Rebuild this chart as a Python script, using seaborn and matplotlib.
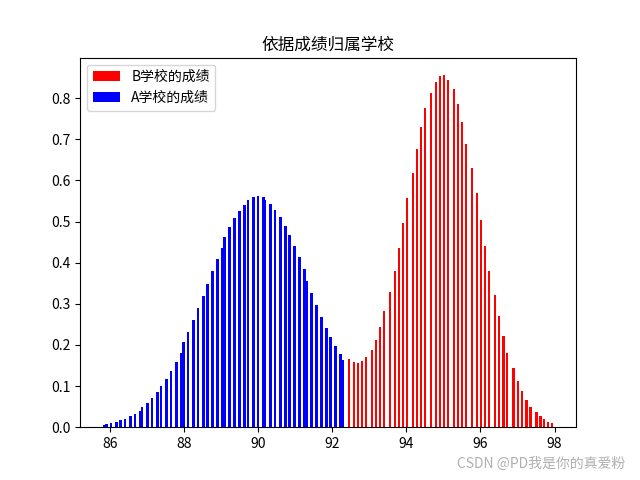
import matplotlib
matplotlib.use("Agg")
import matplotlib.pyplot as plt
import seaborn as sns

# Scores (left edge of each bar) and heights
a_scores = [85.80, 85.86, 85.99, 86.13, 86.24, 86.37, 86.51, 86.64, 86.78, 86.83,
            86.97, 87.10, 87.24, 87.34, 87.48, 87.61, 87.75, 87.88, 87.94, 88.07,
            88.21, 88.34, 88.48, 88.59, 88.72, 88.86, 88.99, 89.05, 89.18, 89.32,
            89.45, 89.59, 89.69, 89.83, 89.96, 90.10, 90.15, 90.29, 90.42, 90.56,
            90.69, 90.80, 90.94, 91.07, 91.21, 91.26, 91.40, 91.53, 91.67, 91.80,
            91.91, 92.05, 92.18, 92.24]
a_values = [0.006, 0.008, 0.011, 0.013, 0.018, 0.021, 0.028, 0.033, 0.040, 0.050,
            0.059, 0.071, 0.086, 0.101, 0.118, 0.137, 0.159, 0.181, 0.208, 0.232,
            0.261, 0.290, 0.319, 0.348, 0.380, 0.409, 0.436, 0.462, 0.486, 0.508,
            0.525, 0.540, 0.552, 0.559, 0.562, 0.559, 0.552, 0.542, 0.528, 0.511,
            0.489, 0.467, 0.440, 0.413, 0.385, 0.356, 0.327, 0.297, 0.268, 0.242,
            0.220, 0.198, 0.178, 0.164]

b_scores = [92.42, 92.56, 92.67, 92.78, 92.88, 93.05, 93.15, 93.26, 93.37, 93.53,
            93.67, 93.78, 93.88, 93.99, 94.15, 94.26, 94.37, 94.48, 94.64, 94.78,
            94.88, 94.99, 95.10, 95.26, 95.37, 95.48, 95.59, 95.75, 95.88, 95.99,
            96.10, 96.21, 96.37, 96.48, 96.59, 96.69, 96.86, 96.99, 97.10, 97.21,
            97.32, 97.48, 97.59, 97.69, 97.80, 97.91]
b_values = [0.166, 0.159, 0.157, 0.161, 0.171, 0.188, 0.212, 0.244, 0.283, 0.329,
            0.380, 0.436, 0.497, 0.557, 0.618, 0.676, 0.729, 0.776, 0.812, 0.839,
            0.853, 0.856, 0.844, 0.822, 0.785, 0.742, 0.688, 0.630, 0.569, 0.504,
            0.441, 0.380, 0.322, 0.271, 0.222, 0.181, 0.144, 0.113, 0.089, 0.067,
            0.050, 0.038, 0.028, 0.021, 0.013, 0.011]

title = "依据成绩归属学校"
label_b = "B学校的成绩"
label_a = "A学校的成绩"
watermark = "CSDN @PD我是你的真爱粉"

sns.reset_orig()
plt.rcParams['font.family'] = ['Noto Sans CJK SC', 'DejaVu Sans']
plt.rcParams['axes.unicode_minus'] = False

fig, ax = plt.subplots(figsize=(6.4, 4.8), dpi=100)
ax.bar(b_scores, b_values, width=0.06, align='edge', color='red', label=label_b)
ax.bar(a_scores, a_values, width=0.075, align='edge', color='blue', label=label_a)
ax.set_title(title)
ax.legend(loc='upper left')
fig.text(0.977, 0.033, watermark, ha='right', va='center', color='#b0b0b0', fontsize=10)
fig.savefig("out.png", dpi=100)
